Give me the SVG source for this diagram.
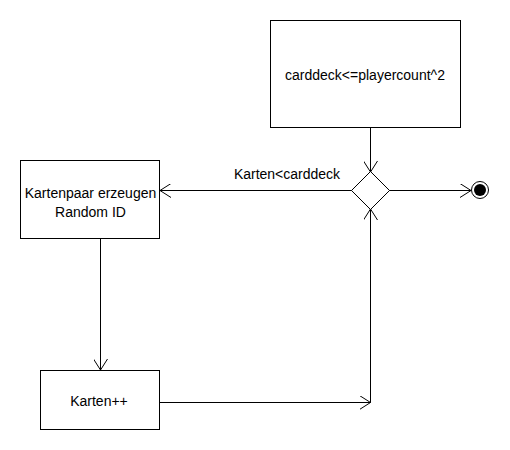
<svg xmlns="http://www.w3.org/2000/svg" width="510" height="450" viewBox="0 0 510 450">
<style>
.box{fill:#fff;stroke:#000;stroke-width:1}
.t{font-family:"Liberation Sans",Arial,sans-serif;font-size:14px;fill:#000;text-anchor:middle}
.ln{fill:none;stroke:#000;stroke-width:1}
</style>
<defs>
<marker id="a" markerWidth="12" markerHeight="14" refX="11" refY="7" orient="auto" markerUnits="userSpaceOnUse">
<path d="M0,0 L11,7 L0,14" fill="none" stroke="#000" stroke-width="1"/>
</marker>
</defs>
<rect width="510" height="450" fill="#fff"/>
<g id="connectors">
<path class="ln" d="M370.5,128 L370.5,172" marker-end="url(#a)"/>
<path class="ln" d="M352,190.5 L160,190.5" marker-end="url(#a)"/>
<path class="ln" d="M389,190.5 L471,190.5" marker-end="url(#a)"/>
<path class="ln" d="M100.5,238 L100.5,370" marker-end="url(#a)"/>
<path class="ln" d="M160,402.5 L370.5,402.5" marker-end="url(#a)"/>
<path class="ln" d="M370.5,402.5 L370.5,209" marker-end="url(#a)"/>
<text class="t" x="287" y="179">Karten&lt;carddeck</text>
</g>
<g id="n1">
<rect class="box" x="270.5" y="20.5" width="190" height="107"/>
<text class="t" x="365" y="80">carddeck&lt;=playercount^2</text>
</g>
<g id="n2">
<path class="box" d="M370.5,171.5 L389.5,190.5 L370.5,209.5 L351.5,190.5 Z"/>
</g>
<g id="n3">
<circle cx="480" cy="190" r="8.5" fill="#fff" stroke="#000"/>
<circle cx="480" cy="190" r="6" fill="#000"/>
</g>
<g id="n4">
<rect class="box" x="20.5" y="160.5" width="139" height="78"/>
<text class="t" x="90.5" y="198">Kartenpaar erzeugen</text>
<text class="t" x="90.5" y="217">Random ID</text>
</g>
<g id="n5">
<rect class="box" x="40.5" y="370.5" width="119" height="59"/>
<text class="t" x="99" y="406">Karten++</text>
</g>
</svg>
